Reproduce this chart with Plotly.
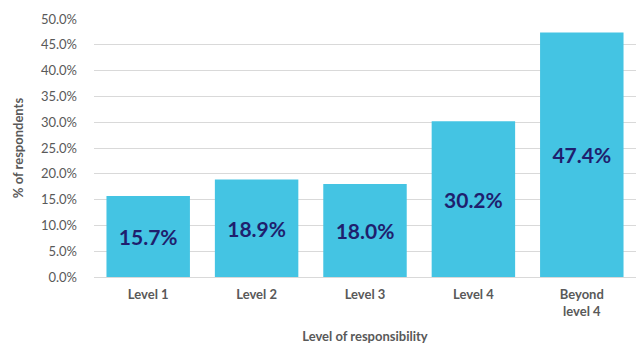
import plotly.graph_objects as go

categories = ["Level 1", "Level 2", "Level 3", "Level 4", "Beyond<br>level 4"]
shares = [15.7, 18.9, 18.0, 30.2, 47.4]
y_ticks = [0, 5, 10, 15, 20, 25, 30, 35, 40, 45, 50]
y_tick_labels = [f"{v:.1f}%" for v in y_ticks]

FONT = "Lato, 'Open Sans', sans-serif"

fig = go.Figure(
    go.Bar(
        x=categories,
        y=shares,
        marker=dict(color="#44C4E3", line=dict(width=0)),
        text=[f"{v:.1f}%" for v in shares],
        textposition="inside",
        insidetextanchor="middle",
        textangle=0,
        textfont=dict(family=FONT, size=21, color="#1F1F6E", weight="bold"),
        hoverinfo="skip",
    )
)

fig.update_layout(
    width=638,
    height=345,
    margin=dict(l=94, r=2, t=19, b=68),
    paper_bgcolor="white",
    plot_bgcolor="white",
    bargap=0.23,
    showlegend=False,
    font=dict(family=FONT, color="#595959", size=13),
)

fig.update_xaxes(
    title=dict(text="<b>Level of responsibility</b>", font=dict(size=13, color="#595959"), standoff=14),
    tickfont=dict(size=13, color="#595959", weight="bold"),
    showgrid=False,
    showline=True,
    linecolor="#D9D9D9",
    linewidth=1,
    ticks="",
    ticklabelstandoff=5,
    automargin=False,
)

fig.update_yaxes(
    range=[0, 50],
    tickvals=y_ticks,
    ticktext=y_tick_labels,
    tickfont=dict(size=13, color="#595959"),
    showgrid=True,
    gridcolor="#D9D9D9",
    gridwidth=1,
    zeroline=False,
    showline=False,
    ticks="",
    ticklabelstandoff=16,
    automargin=False,
    title=dict(text="<b>% of respondents</b>", font=dict(size=13, color="#595959"), standoff=14),
)

fig.write_html("out.html")
